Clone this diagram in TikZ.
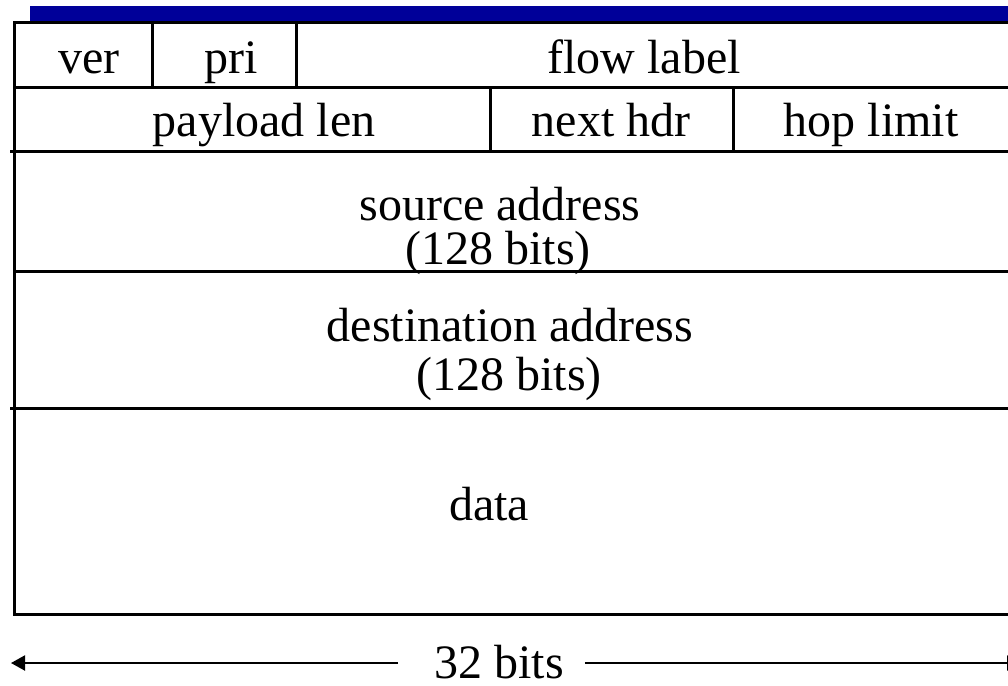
\documentclass[tikz,border=0pt]{standalone}
\usepackage{fontspec}
\setmainfont{Liberation Serif}
\usetikzlibrary{arrows.meta}
\definecolor{barblue}{RGB}{0,0,153}
\tikzset{
  lbl/.style={anchor=base, inner sep=0pt, font=\fontsize{48}{54}\selectfont},
  rule/.style={line width=3pt, line cap=rect},
  dim/.style={line width=2pt}
}
\begin{document}
\begin{tikzpicture}[x=1pt,y=-1pt]
\useasboundingbox (0,0) rectangle (1008,685);
\clip (0,0) rectangle (1008,685);
% blue bar
\fill[barblue] (30,6) rectangle (1012,21);
% frame
\draw[rule] (14.5,23) -- (1012,23);
\draw[rule] (14.5,23) -- (14.5,614) -- (1012,614);
\draw[rule] (1012,23) -- (1012,614);
% row separators
\draw[rule] (14.5,87) -- (1012,87);
\draw[rule] (11,151) -- (1012,151);
\draw[rule] (14.5,271) -- (1012,271);
\draw[rule] (11,408) -- (1012,408);
% column separators
\draw[rule] (152,23) -- (152,87);
\draw[rule] (296,23) -- (296,87);
\draw[rule] (490,87) -- (490,151);
\draw[rule] (733,87) -- (733,151);
% labels
\node[lbl] (ver) at (89,74) {ver};
\node[lbl] (pri) at (231,74) {pri};
\node[lbl] (flow) at (644,74) {flow label};
\node[lbl] (plen) at (264,136) {payload len};
\node[lbl] (nhdr) at (611,136) {next hdr};
\node[lbl] (hop) at (871,136) {hop limit};
\node[lbl] (src) at (500,220) {source address};
\node[lbl] (srcb) at (498,264) {(128 bits)};
\node[lbl] (dst) at (510,341) {destination address};
\node[lbl] (dstb) at (509,390) {(128 bits)};
\node[lbl] (data) at (489,520) {data};
\node[lbl] (bits) at (499,678) {32 bits};
% dimension arrow
\coordinate (dl) at (11,663);
\coordinate (dr) at (1021,663);
\draw[dim,-{Triangle[length=14pt,width=15pt]}] (bits.west |- dl) ++(-36,0) -- (dl);
\draw[dim,-{Triangle[length=14pt,width=15pt]}] (bits.east |- dr) ++(21,0) -- (dr);
\end{tikzpicture}
\end{document}
